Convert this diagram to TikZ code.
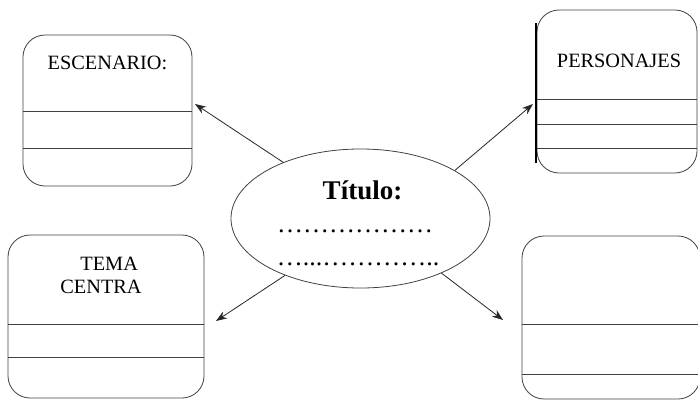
\documentclass[tikz,border=0pt]{standalone}
\usepackage{fontspec}
\setmainfont{Liberation Serif}
\usetikzlibrary{positioning,shapes.geometric,arrows.meta}

\begin{document}
\begin{tikzpicture}[x=1pt,y=-1pt, line width=0.8pt]
	\tikzstyle{caja}=[draw=black!75,rounded corners=22pt,inner sep=0pt]
	\tikzstyle{rotulo}=[font=\fontsize{20.3}{23}\selectfont,inner sep=0pt,anchor=base]
	\tikzstyle{puntos}=[font=\fontsize{26}{28}\selectfont,inner sep=0pt,anchor=base]
	\tikzstyle{flecha}=[draw=black!85,-{Stealth[length=11pt,width=8pt]}]
	\useasboundingbox (0,0) rectangle (698,399);
	% cajas
	\node[caja, minimum width=169pt, minimum height=151pt] (esc) at (107.5,110.5) {};
	\node[caja, minimum width=160pt, minimum height=163pt] (per) at (617,91.5) {};
	\node[caja, minimum width=196pt, minimum height=163pt] (tema) at (106,316.5) {};
	\node[caja, minimum width=178pt, minimum height=163pt] (otro) at (611,317.5) {};
	\foreach \y in {111,148} \draw[black!75] (esc.west |- 0,\y) -- (esc.east |- 0,\y);
	\foreach \y in {99,124,148} \draw[black!75] (per.west |- 0,\y) -- (per.east |- 0,\y);
	\foreach \y in {324,357} \draw[black!75] (tema.west |- 0,\y) -- (tema.east |- 0,\y);
	\foreach \y in {324,374} \draw[black!75] (otro.west |- 0,\y) -- (otro.east |- 0,\y);
	\draw[line width=1.8pt] ([xshift=-1pt]per.west |- 0,23) -- ([xshift=-1pt]per.west |- 0,163);
	% textos
	\node[rotulo] (tesc) at (107.5,69) {ESCENARIO:};
	\node[rotulo] (tper) at (619,67) {PERSONAJES};
	\node[rotulo, align=left] (ttema) at (101,293) {\hspace{20pt}TEMA\\CENTRA};
	% elipse central
	\node[ellipse, draw=black!75, minimum width=259pt, minimum height=139pt, inner sep=0pt] (tit) at (360.5,218.5) {};
	\node[font=\fontsize{27}{30}\selectfont\bfseries, inner sep=0pt, anchor=base] (titulo) at (362.5,199) {Título:};
	\node[puntos] (linea1) at (355,232) {………………};
	\node[puntos] (linea2) at (358,265) {…...…………..};
	% flechas
	\coordinate (pesc) at (195,104);
	\coordinate (pper) at (533,104);
	\coordinate (ptema) at (216,321);
	\coordinate (potro) at (503,320);
	\draw[flecha] (tit.144) -- (pesc);
	\draw[flecha] (tit.27) -- (pper);
	\draw[flecha] (tit.217) -- (ptema);
	\draw[flecha] (tit.326) -- (potro);
\end{tikzpicture}
\end{document}
